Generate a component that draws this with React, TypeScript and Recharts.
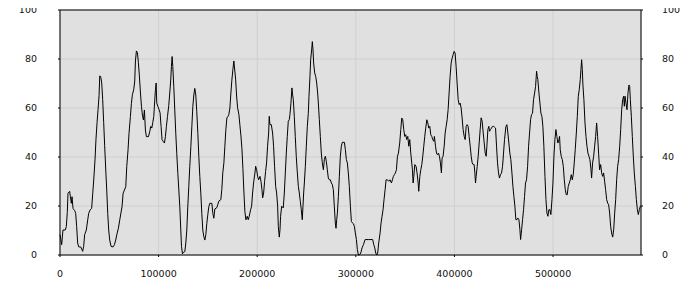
import React from 'react';
import { LineChart, Line, XAxis, YAxis, CartesianGrid, ReferenceLine } from 'recharts';

// x positions and values
const xs = [
  0, 1700, 3000, 5400, 6400, 7400, 8100, 9800, 10500, 11500, 12200, 13200, 14900, 15900, 16900, 17900, 19000,
  21000, 22000, 23000, 24000, 25000, 26700, 28100, 29100, 30500, 32100, 33200, 34200, 35500, 36500, 37600,
  38600, 39600, 40300, 41300, 42300, 43300, 44300, 45300, 46400, 47400, 48400, 49400, 50400, 51800, 53800,
  55200, 56500, 57900, 59200, 60600, 61600, 62900, 64000, 65300, 66700, 67700, 69000, 70000, 71400, 72400,
  73400, 74800, 75800, 76500, 77500, 78500, 79500, 80500, 81600, 82600, 83600, 84600, 85600, 86600, 87600,
  89700, 91000, 92000, 93100, 94100, 95100, 96100, 96800, 97500, 98100, 99200, 100500, 101500, 102500, 103500,
  104600, 105900, 106900, 107900, 109000, 110300, 111300, 112300, 113000, 113700, 114400, 115400, 116400,
  117400, 118400, 119500, 120500, 121500, 122500, 123200, 124200, 125200, 126600, 127600, 128600, 129600,
  130600, 131600, 132700, 133700, 134700, 135700, 136700, 137700, 138700, 139800, 140800, 141800, 142800,
  143800, 144800, 145800, 146900, 147900, 148900, 149900, 150900, 151900, 154000, 155000, 156000, 157000,
  159000, 160100, 161100, 163100, 164100, 165100, 166200, 167200, 168200, 169200, 170200, 171200, 172300,
  173300, 174300, 175300, 176300,
  178100, 179100, 180100, 181400, 182500, 183500, 184500, 185500, 186500, 187500, 188500, 189900, 190900,
  191900, 193300, 194300, 195300, 196300, 197700, 198400, 199400, 200400, 201400, 202800, 203800, 204800,
  205500, 206500, 207500, 208500, 209500, 210500, 211600, 212200, 212900, 214300, 215600, 216600, 217600,
  218700, 219700, 220700, 221400, 222400, 223100, 223700, 224800, 226400, 227500, 228500, 229500, 230500,
  231500, 232500, 233200, 234200, 235200, 235900, 236600, 237600, 238600, 239600, 240700, 241700, 242700,
  243700, 244700, 245700, 246400, 247100, 247800, 248800, 249800, 250800, 251800, 252500, 253500, 254200,
  255200, 255900, 256600, 257200, 258300, 259300, 260300, 261300, 262000, 263000, 264000, 265000, 266000,
  267100, 268100, 269100, 270100, 271100, 272100, 273100, 274200, 275200, 276200, 277200, 278200, 279200,
  279900, 280600, 281300, 282300, 283300, 284300, 285300, 286300, 288400, 289400, 290400, 291400, 292400,
  293400, 294500, 295500, 296500, 297500, 298500, 299500, 300600, 301600, 302600, 303600, 305000, 306300,
  307700, 309400, 313100, 317100, 318200, 319200, 320200, 321200, 322200, 323200, 324600, 325600, 326600,
  327600, 328600, 329700, 330700, 332000, 333400, 334700, 336100, 337100, 338100, 339100, 340100, 341200,
  342200, 343200, 344500, 345600, 346600, 347600, 348600, 349600, 350600, 351600, 352700, 353700, 354700,
  355700, 356700, 357400, 358100, 358800, 359800, 361100, 362100, 363200, 363800, 364900, 365900, 366900,
  367900, 368900, 369900, 370900, 372000, 373000, 374000, 375000, 376000, 377000, 378000, 379100, 379700,
  380800, 381800, 382800, 383800, 384800, 385800, 386800, 387500, 388500, 389600, 390600, 391600, 392600,
  393600, 394600, 395600, 396700, 397700, 398700, 399700, 400700, 401700, 402700, 403800, 404800, 405800,
  406800, 407800, 408800, 409900, 410900,
  411900, 412900, 413900, 414900, 416000, 417000, 418000, 419000, 420000, 420700, 421400, 422000, 423100,
  424100, 425100, 426100, 427100, 428100, 429200, 430200, 431200, 432200, 432900, 433900, 434900, 435600,
  436600, 437600, 438600, 439600, 440700, 441700, 442700, 443700, 444700, 445700, 446700, 447800, 448800,
  449800, 450800, 452200, 453200, 454200, 455200, 456200, 457200, 458300, 459300, 460300, 461300, 462300,
  463300, 464300, 465400, 466400, 467100, 468100, 469100, 470100, 471100, 472100, 473100, 474200, 475200,
  476200, 477200, 478200, 479200, 480200, 481300, 482300, 483300, 484000, 484600, 485700, 486700, 487700,
  488700, 489700, 490700, 491800, 492800, 493800, 494800, 495800, 496800, 497800, 498900, 499900, 500900,
  501900, 502900, 503900, 504900, 506000, 506600, 507300, 508300, 509400, 510400, 511400, 512400, 513400,
  514400, 515400, 516500, 517500, 518500, 519500, 520500, 521500, 522500, 523600, 524600, 525600, 526600,
  527600, 528300, 529000, 529700, 530300, 531300, 532400, 533400, 534400, 535400, 536400, 537400, 538500,
  539100, 540100, 541200, 542200, 543200, 544200, 545200, 546200, 547200, 548300, 549300, 550300, 551300,
  552300, 553300, 554400, 555400, 556400, 557400, 558400, 559400, 560500, 561500, 562500, 563500, 564500,
  565500, 566500, 567600, 568600, 569600, 570600, 571600, 572300, 573000, 574000, 575000, 576000, 577000,
  577700, 578400, 579400, 580400, 581400, 582400, 583500, 584500, 585500, 586500, 587500, 588500, 589200,
];

const ys = [
  8.3, 4.2, 10.2, 10.2, 11.6, 17.4, 25.2, 26.0, 23.8, 21.1, 23.8, 19.0, 18.1, 17.0, 11.6, 4.9, 3.3,
  3.3, 2.4, 1.5, 3.5, 8.3, 10.2, 14.3, 17.0, 18.4, 19.0, 25.2, 30.6, 38.8, 47.3, 54.1,
  59.5, 65.0, 73.1, 72.8, 70.2, 63.4, 54.1, 44.6, 34.7, 26.5, 17.0, 10.2, 6.1, 3.5, 3.3,
  4.2, 6.1, 8.8, 10.9, 14.3, 16.7, 19.7, 25.2, 26.5, 27.9, 36.1, 42.9, 49.7, 56.5, 61.9,
  65.4, 67.6, 71.0, 79.2, 83.3, 82.6, 78.5, 73.1, 66.1, 60.7, 57.1, 55.1, 59.2, 51.0, 48.3,
  48.3, 50.3, 52.5, 51.8, 54.1, 56.5, 63.3, 67.5, 70.2, 62.0, 60.7, 59.3, 58.0, 52.5, 47.1,
  46.4, 45.7, 48.3, 52.5, 56.5, 61.0, 66.1, 71.4, 76.9, 81.0, 76.9, 68.7, 59.2,
  49.7, 41.5, 33.3, 26.5, 19.7, 10.2, 3.5, 0.5, 1.1, 1.4, 4.9, 10.2, 19.7,
  27.9, 36.1, 44.2, 52.4, 60.5, 65.3, 68.0, 65.3, 58.5, 49.7, 40.1, 32.0, 25.2,
  17.0, 10.2, 7.6, 6.1, 8.3, 12.9, 16.5, 19.7, 21.1, 21.1, 17.0, 15.0, 18.8,
  19.3, 20.7, 22.0, 22.6, 26.8, 33.6, 37.6, 44.4, 51.1, 55.9, 56.5, 57.3, 60.0,
  66.1, 71.4, 75.6, 79.2,
  71.8, 64.9, 60.1, 57.4, 52.7, 48.6, 43.4, 35.2, 25.7, 17.7, 14.4, 15.8, 14.4,
  15.8, 18.5, 19.9, 25.3, 29.4, 33.5, 36.2, 34.8, 32.1, 30.7, 32.1, 30.1, 26.7,
  23.3, 25.3, 30.1, 34.1, 37.6, 44.4, 49.8, 56.6, 53.2, 53.2, 49.8, 44.4, 36.2,
  28.0, 25.3, 19.9, 11.7, 7.3, 10.3, 15.8, 19.9, 19.2, 25.3, 33.5, 41.6, 48.4,
  54.6, 55.2, 57.4, 62.0, 68.2, 65.4, 63.4, 56.6, 48.4, 40.3, 33.5, 28.0, 25.3,
  21.9, 18.5, 14.4, 19.9, 25.3, 29.4, 36.2, 44.4, 52.5, 57.7, 64.8, 72.9, 79.7,
  83.7, 87.1, 83.7, 78.4, 74.3, 72.9, 70.2, 66.1, 62.0, 55.2, 48.4, 41.6, 37.6,
  34.8, 39.0, 40.3, 38.2, 34.8, 31.4, 30.7, 30.7, 29.4, 28.7, 26.7, 19.9, 13.1,
  10.9, 14.4, 17.1, 23.9, 32.1, 40.3, 44.4, 46.0, 46.0, 43.0, 39.0, 37.6, 33.5,
  28.0, 19.9, 13.7, 13.1, 12.8, 11.7, 9.0, 6.3, 2.2, 0, 0, 0.8, 2.9,
  4.2, 6.3, 6.3, 6.3, 4.2, 2.9, 0.8, 0, 0.8, 4.9, 9.0, 13.1, 15.8,
  18.5, 22.6, 26.7, 30.7, 30.7, 30.1, 30.7, 29.4, 30.7, 32.1, 32.8, 33.5, 34.8,
  40.3, 41.6, 45.7, 51.2, 55.9, 55.2, 51.2, 48.4, 49.1, 47.1, 48.4, 44.4, 47.1,
  41.6, 37.6, 34.8, 29.4, 32.1, 36.9, 36.2, 33.5, 29.4, 26.0, 32.1, 34.8, 36.9,
  40.3, 44.4, 48.4, 51.8, 55.2, 53.9, 51.8, 52.5, 49.1, 48.4, 47.1, 46.4, 48.4,
  44.4, 41.6, 40.9, 41.6, 40.3, 37.6, 33.5, 39.6, 40.3, 44.4, 49.8, 52.5, 55.2,
  59.3, 66.1, 72.9, 78.4, 80.4, 81.8, 83.1, 82.4, 77.0, 70.2, 63.4, 61.4, 62.0,
  60.0, 55.9, 51.2, 48.4, 47.1,
  52.5, 53.2, 52.5, 48.4, 44.4, 40.3, 37.6, 36.9, 36.9, 33.5, 29.4, 32.1, 36.2,
  40.3, 45.7, 51.2, 56.0, 54.6, 49.8, 45.7, 41.6, 40.3, 44.4, 51.2, 52.5, 50.5,
  51.2, 51.8, 52.5, 52.5, 52.2, 51.8, 44.4, 37.6, 33.5, 31.4, 32.8, 33.5, 36.2,
  41.6, 47.1, 52.5, 53.2, 49.8, 45.7, 41.6, 38.9, 33.5, 28.0, 23.9, 19.9, 14.4,
  14.4, 15.1, 14.4, 10.3, 6.3, 10.3, 14.4, 18.5, 23.9, 29.4, 30.7, 36.2, 44.4,
  49.8, 55.2, 57.3, 57.9, 63.4, 66.1, 68.8, 75.0, 72.9, 71.6, 66.1, 62.0, 57.9,
  56.6, 52.5, 44.4, 32.1, 22.6, 17.1, 15.8, 18.5, 18.5, 16.5, 22.6, 29.4, 40.3,
  47.1, 51.2, 48.4, 45.7, 47.1, 48.4, 42.9, 40.3, 38.9, 36.2, 30.7, 26.7, 24.6,
  24.6, 28.0, 29.4, 30.7, 32.8, 30.7, 32.8, 37.6, 43.0, 49.8, 56.6, 64.8, 67.5,
  71.6, 75.6, 79.7, 75.6, 69.4, 63.4, 53.9, 48.4, 44.4, 41.6, 40.3, 38.9, 34.8,
  31.4, 37.6, 40.3, 44.4, 48.4, 53.9, 48.4, 41.6, 34.8, 36.9, 33.5, 32.1, 33.5,
  30.1, 26.7, 22.6, 21.2, 20.5, 17.1, 11.7, 9.0, 7.3, 10.3, 17.1, 22.6, 30.7,
  36.2, 38.9, 44.4, 51.2, 59.3, 63.4, 64.8, 60.7, 64.8, 62.0, 59.3, 66.1, 69.4,
  68.8, 63.4, 56.6, 48.4, 40.3, 33.5, 28.0, 22.6, 18.5, 16.5, 18.5, 19.9, 20.0,
];

const xTicks = [0, 100000, 200000, 300000, 400000, 500000];
const yTicks = [0, 20, 40, 60, 80, 100];
const xMax = 589200;

const data = xs.map((x, i) => ({ t: x, v: ys[i] }));

const tickStyle = { fontSize: 9.5, fill: '#111', fontFamily: 'DejaVu Sans' };

export default function App() {
  return (
    <div style={{ margin: -8, width: 700, height: 300 }}>
      <LineChart width={700} height={300} data={data} margin={{ top: 10, right: 0, left: 0, bottom: 0 }}>
        <CartesianGrid fill="#e0e0e0" stroke="#cfcfcf" />
        <XAxis
          dataKey="t"
          type="number"
          domain={[0, xMax]}
          ticks={xTicks}
          height={45}
          tickSize={2}
          tickMargin={13}
          tick={tickStyle}
          stroke="#000"
        />
        <YAxis
          domain={[0, 100]}
          ticks={yTicks}
          width={60}
          tickSize={2}
          tickMargin={21}
          tick={tickStyle}
          stroke="#000"
        />
        <YAxis
          yAxisId="right"
          orientation="right"
          domain={[0, 100]}
          ticks={yTicks}
          width={59}
          tickSize={2}
          tickMargin={19}
          tick={tickStyle}
          stroke="#000"
        />
        <ReferenceLine y={100} stroke="#000" />
        <Line yAxisId="right" dataKey="v" stroke="none" dot={false} activeDot={false} isAnimationActive={false} />
        <Line
          type="linear"
          dataKey="v"
          stroke="#000"
          strokeWidth={1}
          dot={false}
          activeDot={false}
          isAnimationActive={false}
        />
      </LineChart>
    </div>
  );
}
